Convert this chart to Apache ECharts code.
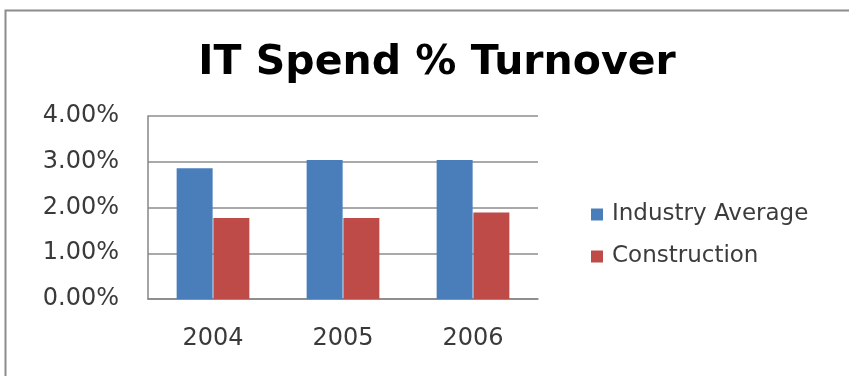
<!DOCTYPE html>
<html>
<head>
<meta charset="utf-8">
<script src="https://cdn.jsdelivr.net/npm/echarts@6/dist/echarts.min.js"></script>
<style>
  html, body { margin: 0; padding: 0; background: #fff; }
  #chart { width: 849px; height: 376px; }
</style>
</head>
<body>
<div id="chart"></div>
<script>
const years = ["2004", "2005", "2006"];
const industryAverage = [2.86, 3.04, 3.04];
const construction = [1.77, 1.77, 1.89];
const yTicks = [0, 1, 2, 3, 4];

const chart = echarts.init(document.getElementById("chart"));
const font = "'DejaVu Sans', sans-serif";

chart.setOption({
  backgroundColor: "#fff",
  animation: false,
  // outer frame of the chart area
  graphic: [
    {
      type: "rect",
      shape: { x: 5.5, y: 10.5, width: 860, height: 380 },
      style: { fill: "none", stroke: "#8c8c8c", lineWidth: 2 },
    },
  ],
  title: {
    text: "IT Spend % Turnover",
    left: 432,
    top: 38,
    textAlign: "center",
    textStyle: { fontFamily: font, fontSize: 41, fontWeight: "bold", color: "#000" },
  },
  legend: {
    orient: "vertical",
    left: 586,
    top: 198,
    itemWidth: 12,
    itemHeight: 12,
    itemGap: 19,
    icon: "rect",
    textStyle: { fontFamily: font, fontSize: 23, color: "#3c3c3c", padding: [0, 0, 0, 4] },
    data: ["Industry Average", "Construction"],
  },
  grid: { left: 148, right: 311, top: 116, bottom: 77 },
  xAxis: {
    type: "category",
    data: years,
    axisLine: { lineStyle: { color: "#868686", width: 1.5 } },
    axisTick: { show: false },
    axisLabel: { fontFamily: font, fontSize: 24, color: "#3a3a3a", margin: 28 },
  },
  yAxis: {
    type: "value",
    min: yTicks[0],
    max: yTicks[yTicks.length - 1],
    interval: 1,
    axisLine: { show: true, lineStyle: { color: "#868686", width: 1.5 } },
    axisTick: { show: false },
    splitLine: { lineStyle: { color: "#8c8c8c", width: 1.5 } },
    axisLabel: {
      fontFamily: font,
      fontSize: 24,
      color: "#3a3a3a",
      margin: 29,
      formatter: (v) => v.toFixed(2) + "%",
    },
  },
  series: [
    {
      name: "Industry Average",
      type: "bar",
      data: industryAverage,
      barWidth: 36,
      barGap: "2%",
      itemStyle: { color: "#4a7ebb" },
    },
    {
      name: "Construction",
      type: "bar",
      data: construction,
      barWidth: 36,
      itemStyle: { color: "#be4b48" },
    },
  ],
});
</script>
</body>
</html>
